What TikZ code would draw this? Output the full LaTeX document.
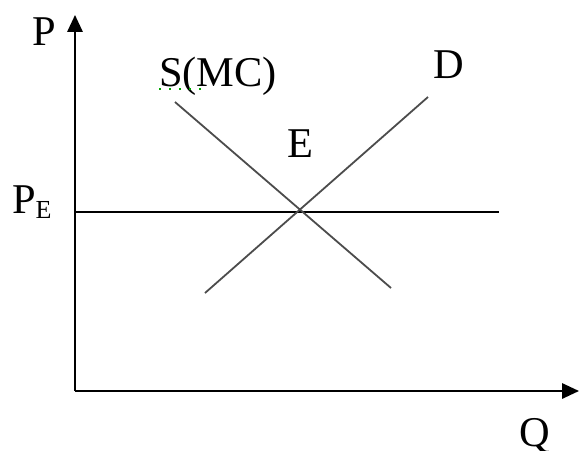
\documentclass[tikz,border=0pt]{standalone}
\usepackage{fontspec}
\setmainfont{Liberation Serif}
\usepackage{tikz}
\usetikzlibrary{arrows.meta}

\begin{document}
\begin{tikzpicture}[
  x=0.25pt, y=-0.25pt,
  axis/.style={line width=0.5pt, -{Triangle[length=4.2pt, width=3.8pt]}},
  curve/.style={line width=0.45pt, black!70},
  price/.style={line width=0.5pt, black},
  lbl/.style={font=\fontsize{10.6}{12}\selectfont, inner sep=0pt, anchor=base},
]
\useasboundingbox (0,0) rectangle (580,451);

% axes
\coordinate (O)    at (75,391);
\coordinate (ytop) at (75,15);
\coordinate (xend) at (579,391);
\draw[axis] (O) -- (ytop);
\draw[axis] (O) -- (xend);

\node[lbl] (P) at (44,45)  {P};
\node[lbl] (Q) at (535,446) {Q};
\node[lbl, anchor=base west] (PE) at (12,213)
  {P\raisebox{-1.3pt}{\fontsize{6.5}{7}\selectfont\kern-0.2pt E}};

% price line
\coordinate (pe0) at (75,212);
\coordinate (pe1) at (499,212);
\draw[price] (pe0) -- (pe1);

% supply and demand
\coordinate (s0) at (175,102);
\coordinate (s1) at (391,288);
\coordinate (d0) at (205,293);
\coordinate (d1) at (428,97);
\draw[curve] (s0) -- (s1);
\draw[curve] (d0) -- (d1);

\node[lbl] (S) at (218,86) {S(MC)};
\node[lbl] (D) at (449,78) {D};
\node[lbl] (E) at (300,157) {E};

% spell-check mark under S
\draw[green!65!black, line width=0.5pt, dotted] (159,88.5) -- (202,88.5);
\end{tikzpicture}
\end{document}
